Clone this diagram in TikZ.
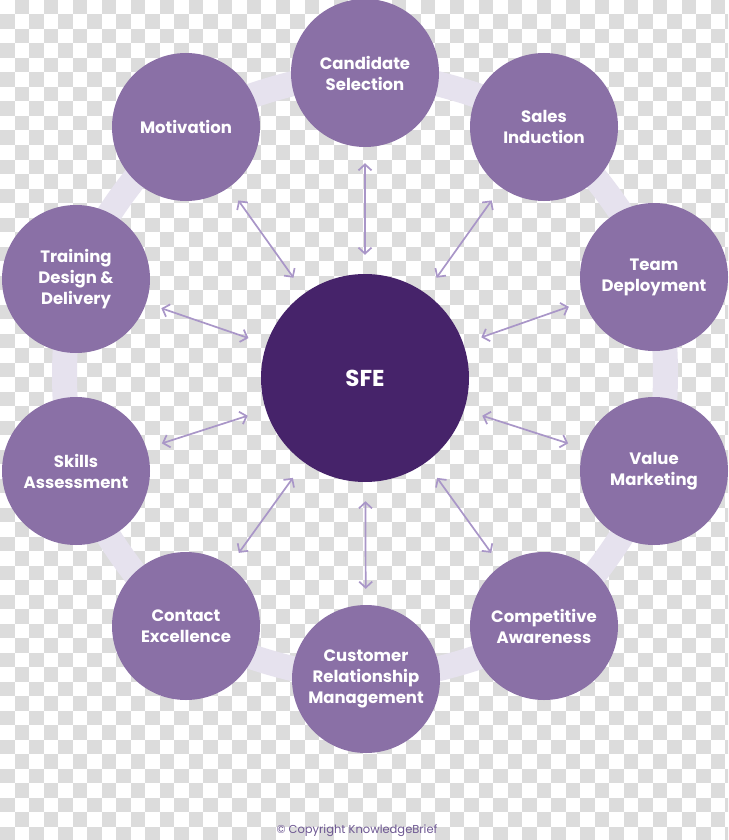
\documentclass[tikz,border=0pt]{standalone}
\usepackage{fontspec}
\setmainfont{Poppins}
\usetikzlibrary{arrows.meta}
\definecolor{satpurple}{HTML}{8A70A6}
\definecolor{corepurple}{HTML}{46236A}
\definecolor{ringlav}{HTML}{E6E2EE}
\definecolor{arrowlav}{HTML}{A996C8}
\definecolor{checkgray}{HTML}{DCDCDC}
\definecolor{notepurple}{HTML}{6D5792}

\begin{document}
\begin{tikzpicture}[x=1pt, y=-1pt,
	satnode/.style={shape=circle, fill=satpurple, minimum size=148pt, inner sep=0pt, text=white, align=center, font=\fontsize{16.5}{21}\selectfont\bfseries},
	corenode/.style={shape=circle, fill=corepurple, minimum size=208pt, inner sep=0pt, text=white, font=\fontsize{23}{28}\selectfont\bfseries},
	ringline/.style={draw=ringlav, line width=25pt},
	biarrow/.style={draw=arrowlav, line width=1.7pt, {Straight Barb[length=6pt,width=13pt]}-{Straight Barb[length=6pt,width=13pt]}, shorten <=19pt, shorten >=16pt}]
	\useasboundingbox (0,0) rectangle (728,840);
	% Background checks:
	\fill[white] (0,0) rectangle (728,840);
	\begin{scope}
		\clip (0,0) rectangle (728,840);
		\foreach \i in {0,...,50}{
			\foreach \j in {0,...,57}{
				\pgfmathtruncatemacro\odd{mod(\i+\j,2)}
				\ifnum\odd=1 \fill[checkgray] (\i*14.5,\j*14.5) rectangle ++(14.5,14.5); \fi
			}
		}
	\end{scope}
	% Places of the circles:
	\coordinate (pcand) at (365,73);
	\coordinate (psales) at (544,127);
	\coordinate (pteam) at (654,277);
	\coordinate (pvalue) at (654,471);
	\coordinate (pcomp) at (544,626);
	\coordinate (pcust) at (366,679);
	\coordinate (pcont) at (186,626);
	\coordinate (pskill) at (76,471);
	\coordinate (ptrain) at (76,279);
	\coordinate (pmotiv) at (186,127);
	% Ring, nodes and arrows:
	\draw[ringline] plot[smooth cycle] coordinates {(pcand) (psales) (pteam) (pvalue) (pcomp) (pcust) (pcont) (pskill) (ptrain) (pmotiv)};
	\node[corenode] (core) at (365,378) {SFE};
	\node[satnode] (cand) at (pcand) {Candidate\\Selection};
	\node[satnode] (sales) at (psales) {Sales\\Induction};
	\node[satnode] (team) at (pteam) {Team\\Deployment};
	\node[satnode] (value) at (pvalue) {Value\\Marketing};
	\node[satnode] (comp) at (pcomp) {Competitive\\Awareness};
	\node[satnode] (cust) at (pcust) {Customer\\Relationship\\Management};
	\node[satnode] (cont) at (pcont) {Contact\\Excellence};
	\node[satnode] (skill) at (pskill) {Skills\\Assessment};
	\node[satnode] (train) at (ptrain) {Training\\Design \&\\Delivery};
	\node[satnode] (motiv) at (pmotiv) {Motivation};
	\foreach \n in {cand,sales,team,value,comp,cust,cont,skill,train,motiv}
		\draw[biarrow] (core) -- (\n);
	\node[text=notepurple, font=\fontsize{11.5}{13}\selectfont] (note) at (357,831) {© Copyright KnowledgeBrief};
\end{tikzpicture}
\end{document}
